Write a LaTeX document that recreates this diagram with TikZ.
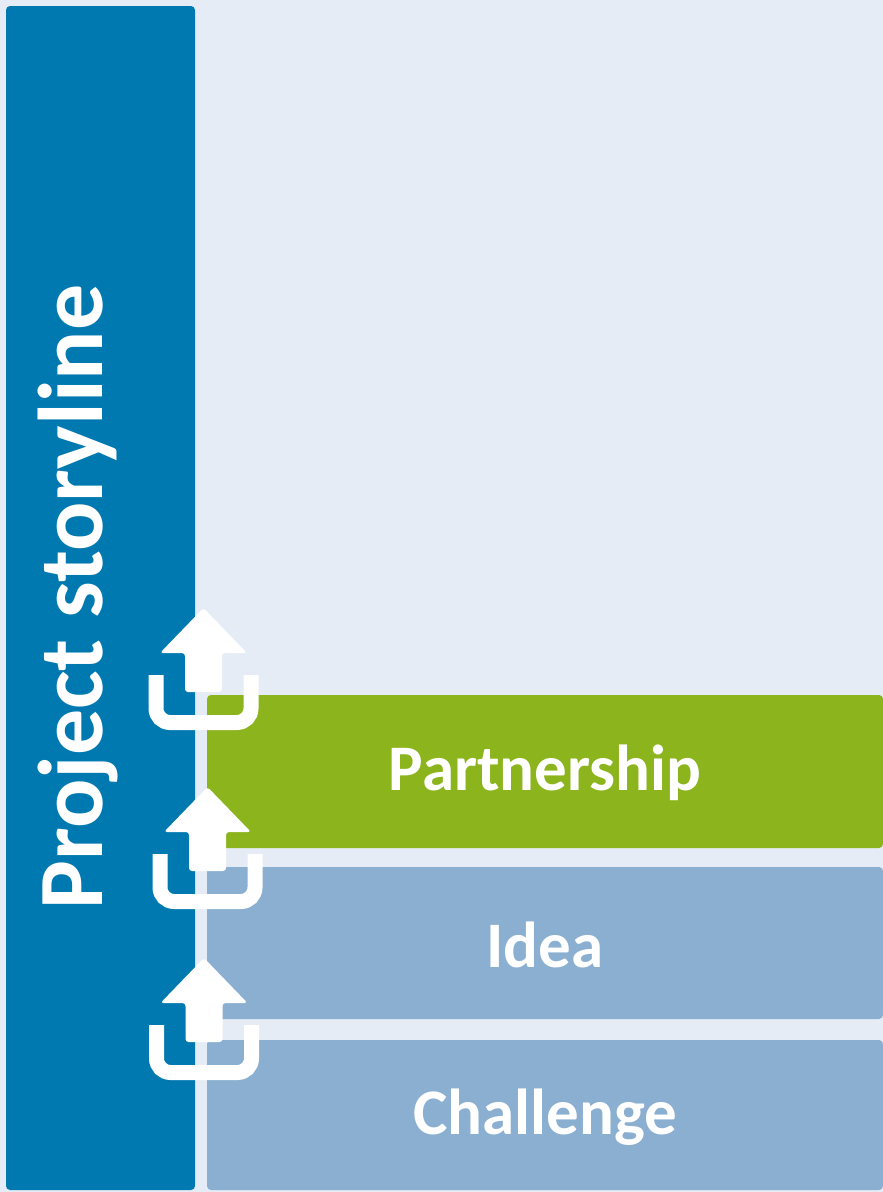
\documentclass[tikz,border=0pt]{standalone}
\usepackage{fontspec}
\setmainfont{Carlito}
\definecolor{bgpale}{HTML}{E6ECF5}
\definecolor{storyblue}{HTML}{0079B1}
\definecolor{partgreen}{HTML}{8CB41C}
\definecolor{rowblue}{HTML}{8AAFD1}
\tikzset{
  rowbox/.style={rounded corners=4pt},
  rowtext/.style={text=white,font=\fontsize{65}{70}\selectfont\bfseries}
}
\begin{document}
\begin{tikzpicture}[x=1pt,y=-1pt]
        \def\xmin{0} \def\xmax{883}
        \def\ymin{0} \def\ymax{1192}
        \fill[bgpale] (\xmin,\ymin) rectangle (\xmax,\ymax);
        \useasboundingbox (\xmin,\ymin) rectangle (\xmax,\ymax);

        % storyline bar
        \fill[storyblue,rowbox] (6,6) rectangle (195,1190);
        \node (story) at (78,597) [rotate=90,text=white,font=\fontsize{92}{96}\selectfont\bfseries] {Project storyline};

        % rows
        \fill[partgreen,rowbox] (207,695) rectangle (883,848);
        \fill[rowblue,rowbox] (207,867) rectangle (883,1019);
        \fill[rowblue,rowbox] (207,1040) rectangle (883,1190);
        \node (partner) at (545,773) [rowtext] {Partnership};
        \node (idea) at (545,945) [rowtext] {Idea};
        \node (chall) at (545,1117) [rowtext] {Challenge};

        % step icons
        \foreach \ax/\ay in {203.5/608,207.5/787,204/958} {
          \fill[white,rounded corners=3pt] (\ax,\ay) -- (\ax+43.5,\ay+45) -- (\ax+18.5,\ay+45)
            -- (\ax+18.5,\ay+84) -- (\ax-18.5,\ay+84) -- (\ax-18.5,\ay+45) -- (\ax-43.5,\ay+45) -- cycle;
          \draw[white,line width=15pt,rounded corners=14pt] (\ax-47.5,\ay+67) -- (\ax-47.5,\ay+114.5)
            -- (\ax+47.5,\ay+114.5) -- (\ax+47.5,\ay+67);
        }
      \end{tikzpicture}
\end{document}
